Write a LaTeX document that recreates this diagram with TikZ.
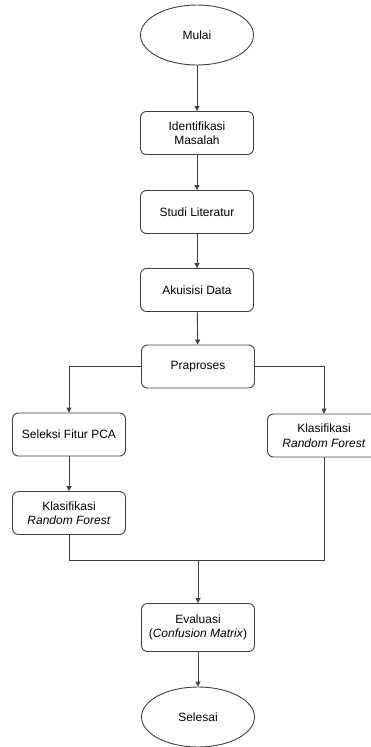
\documentclass[tikz,border=0pt]{standalone}
\usepackage{fontspec}
\setmainfont{Liberation Sans}
\usetikzlibrary{shapes.geometric,arrows.meta}
\begin{document}
\begin{tikzpicture}[x=1pt,y=-1pt,
  font=\fontsize{12}{14.5}\selectfont,
  line/.style={draw=black!75,line width=0.9pt},
  arr/.style={line,-{Triangle[length=5pt,width=5pt]}},
  box/.style={line,rounded corners=6pt,minimum width=113pt,minimum height=43pt,align=center,inner sep=2pt},
  term/.style={line,ellipse,minimum width=113pt,minimum height=60pt,inner sep=0pt}]
\useasboundingbox (0,0) rectangle (370,747);
% Main column
\node[term] (mulai) at (197,35) {Mulai};
\node[box] (ident) at (197,133) {Identifikasi\\Masalah};
\node[box] (studi) at (197,212) {Studi Literatur};
\node[box] (akuisisi) at (197,290) {Akuisisi Data};
\node[box] (prapro) at (198,366.5) {Praproses};
% Branches
\node[box] (seleksi) at (69,434.5) {Seleksi Fitur PCA};
\node[box] (klasL) at (69,513) {Klasifikasi\\\textit{Random Forest}};
\node[box] (klasR) at (324,435.5) {Klasifikasi\\\textit{Random Forest}};
% End
\node[box,minimum height=48pt] (eval) at (198,627.5) {Evaluasi\\(\textit{Confusion Matrix})};
\node[term] (selesai) at (198,717) {Selesai};
\coordinate (join) at (198,560);
% Connectors
\draw[arr] (mulai) -- (ident);
\draw[arr] (ident) -- (studi);
\draw[arr] (studi) -- (akuisisi);
\draw[arr] (akuisisi) -- (prapro);
\draw[arr] (prapro.west) -| (seleksi.north);
\draw[arr] (prapro.east) -| (klasR.north);
\draw[arr] (seleksi) -- (klasL);
\draw[line] (klasL.south) |- (join);
\draw[line] (klasR.south) |- (join);
\draw[arr] (join) -- (eval);
\draw[arr] (eval) -- (selesai);
\end{tikzpicture}
\end{document}
